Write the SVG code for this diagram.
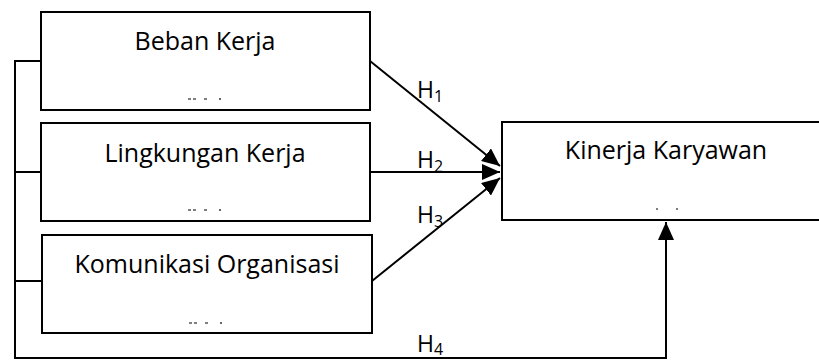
<svg xmlns="http://www.w3.org/2000/svg" width="819" height="360" viewBox="0 0 819 360">
<style>
.box{fill:#fff;stroke:#000;stroke-width:2}
.lbl{font-family:"Open Sans","Liberation Sans",sans-serif;font-size:25px;fill:#000;text-anchor:middle}
.h{font-family:"Open Sans","Liberation Sans",sans-serif;font-size:23px;fill:#000}
.sub{font-size:16px}
.ln{fill:none;stroke:#000;stroke-width:2}
.frag{stroke:#000;stroke-width:1.2;fill:none}
</style>
<defs>
<marker id="ah" markerUnits="userSpaceOnUse" markerWidth="20" markerHeight="16" refX="18" refY="8" orient="auto">
<path d="M0,0 L18,8 L0,16 z" fill="#000"/>
</marker>
</defs>
<rect x="0" y="0" width="819" height="360" fill="#fff"/>
<g id="connectors">
<path class="ln" d="M41,61 H15 V358 H666 V222" marker-end="url(#ah)"/>
<path class="ln" d="M15,172 H41"/>
<path class="ln" d="M15,281 H42"/>
<path class="ln" d="M370,61 L500,166" marker-end="url(#ah)"/>
<path class="ln" d="M370,172 L500,172" marker-end="url(#ah)"/>
<path class="ln" d="M372,281 L500,178" marker-end="url(#ah)"/>
<text class="h" x="417" y="98">H<tspan class="sub" dy="4">1</tspan></text>
<text class="h" x="417" y="168">H<tspan class="sub" dy="4">2</tspan></text>
<text class="h" x="417" y="223">H<tspan class="sub" dy="4">3</tspan></text>
<text class="h" x="417" y="352">H<tspan class="sub" dy="3">4</tspan></text>
</g>
<g id="beban-kerja">
<rect class="box" x="41" y="12" width="329" height="98"/>
<text class="lbl" x="205" y="50">Beban Kerja</text>
<path class="frag" d="M188,99 h3 M193,99 h3 M204,99 h3 M220,98 v2"/>
</g>
<g id="lingkungan-kerja">
<rect class="box" x="41" y="123" width="329" height="98"/>
<text class="lbl" x="205" y="162">Lingkungan Kerja</text>
<path class="frag" d="M188,210 h3 M193,210 h3 M204,210 h3 M220,209 v2"/>
</g>
<g id="komunikasi-organisasi">
<rect class="box" x="42" y="235" width="330" height="98"/>
<text class="lbl" x="207" y="273">Komunikasi Organisasi</text>
<path class="frag" d="M189,323 h3 M194,323 h3 M205,323 h3 M221,322 v2"/>
</g>
<g id="kinerja-karyawan">
<rect class="box" x="502" y="122" width="330" height="98"/>
<text class="lbl" x="666" y="159">Kinerja Karyawan</text>
<path class="frag" d="M656,209 h2 M676,209 h2"/>
</g>
</svg>
